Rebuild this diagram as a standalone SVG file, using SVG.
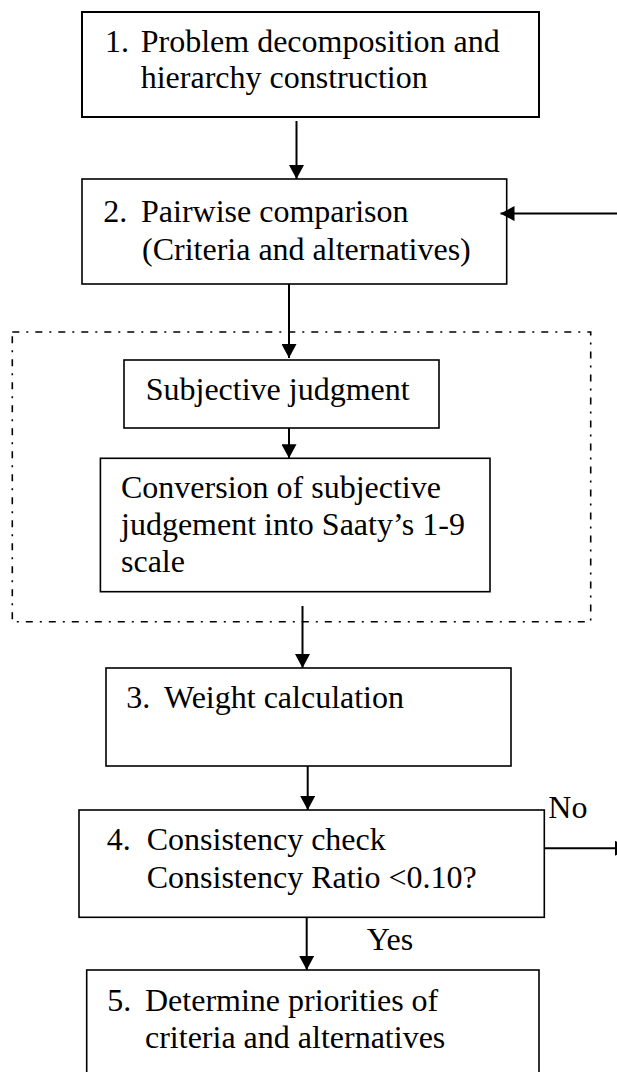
<svg xmlns="http://www.w3.org/2000/svg" width="617" height="1072" viewBox="0 0 617 1072">
<style>
.box{fill:#fff;stroke:#000;stroke-width:1.6}
.t{font-family:"Liberation Serif","Times New Roman",serif;font-size:32px;fill:#000}
.c{stroke:#000;stroke-width:2;fill:none}
.dash{fill:none;stroke:#000;stroke-width:1.6;stroke-dasharray:7 7 2 7}
</style>
<defs>
<marker id="ah" markerUnits="userSpaceOnUse" markerWidth="15" markerHeight="15" refX="14" refY="7.5" orient="auto">
<path d="M0,0 L14,7.5 L0,15 z" fill="#000"/>
</marker>
</defs>
<rect width="617" height="1072" fill="#fff"/>
<g id="group-dashed">
<rect class="dash" x="12.3" y="332" width="578.4" height="289.7"/>
</g>
<g id="node1">
<rect class="box" x="82" y="12" width="457" height="105" style="stroke-width:2"/>
<text class="t" x="105" y="51.7">1.</text>
<text class="t" x="140.7" y="51.7">Problem decomposition and</text>
<text class="t" x="140.7" y="88.3">hierarchy construction</text>
</g>
<g id="node2">
<rect class="box" x="82" y="179" width="424.7" height="105"/>
<text class="t" x="103.3" y="222">2.</text>
<text class="t" x="141" y="222">Pairwise comparison</text>
<text class="t" x="142" y="260">(Criteria and alternatives)</text>
</g>
<g id="node-subjective">
<rect class="box" x="124" y="360" width="315" height="68"/>
<text class="t" x="145.7" y="400">Subjective judgment</text>
</g>
<g id="node-conversion">
<rect class="box" x="100.4" y="458.3" width="389.6" height="133.4"/>
<text class="t" x="121" y="498.3">Conversion of subjective</text>
<text class="t" x="121" y="535">judgement into Saaty’s 1-9</text>
<text class="t" x="121" y="571.7">scale</text>
</g>
<g id="node3">
<rect class="box" x="106" y="668" width="405" height="98"/>
<text class="t" x="126.2" y="708">3.</text>
<text class="t" x="164" y="708">Weight calculation</text>
</g>
<g id="node4">
<rect class="box" x="79" y="810" width="465.3" height="107.3"/>
<text class="t" x="106.7" y="850">4.</text>
<text class="t" x="146.7" y="850">Consistency check</text>
<text class="t" x="146.7" y="888.3">Consistency Ratio &lt;0.10?</text>
</g>
<g id="node5">
<rect class="box" x="86.7" y="970" width="452.3" height="120"/>
<text class="t" x="107.3" y="1010.7">5.</text>
<text class="t" x="145" y="1010.7">Determine priorities of</text>
<text class="t" x="145" y="1048">criteria and alternatives</text>
</g>
<g id="connectors">
<line class="c" x1="296.5" y1="121" x2="296.5" y2="179" marker-end="url(#ah)"/>
<line class="c" x1="620" y1="213.6" x2="500.5" y2="213.6" marker-end="url(#ah)"/>
<line class="c" x1="289" y1="284" x2="289" y2="358" marker-end="url(#ah)"/>
<line class="c" x1="289" y1="428" x2="289" y2="458.3" marker-end="url(#ah)"/>
<line class="c" x1="302.5" y1="606" x2="302.5" y2="668" marker-end="url(#ah)"/>
<line class="c" x1="307.7" y1="766" x2="307.7" y2="810" marker-end="url(#ah)"/>
<line class="c" x1="306.7" y1="917.3" x2="306.7" y2="970" marker-end="url(#ah)"/>
<line class="c" x1="544.3" y1="848.3" x2="629" y2="848.3" marker-end="url(#ah)"/>
<text class="t" x="366.7" y="950">Yes</text>
<text class="t" x="548.3" y="818">No</text>
</g>
</svg>
